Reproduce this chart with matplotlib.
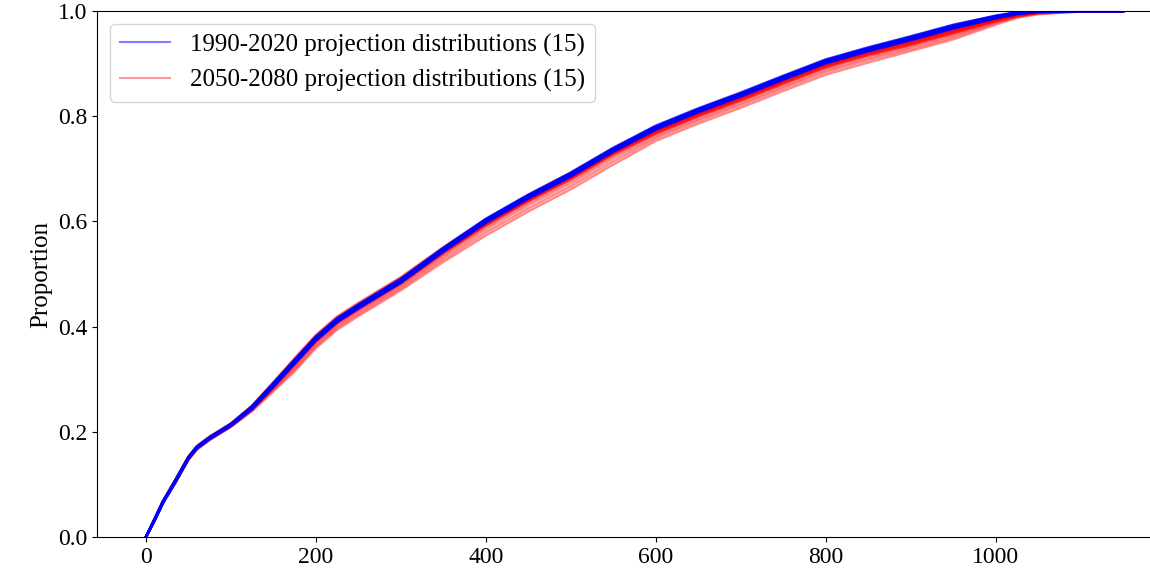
import matplotlib
matplotlib.use("Agg")
import matplotlib.pyplot as plt
from matplotlib.lines import Line2D

plt.rcParams['font.family'] = ['Liberation Serif', 'DejaVu Serif']

# shared x grid for every distribution curve
x_vals = [0, 10, 20, 35, 50, 60, 75, 100, 125, 150, 175, 200, 225, 250, 300,
          350, 400, 450, 500, 550, 600, 650, 700, 750, 800, 850, 900, 950,
          1000, 1025, 1050, 1100, 1150]

# cumulative proportions, 1990-2020 projections
hist_runs = [
    [0.000, 0.030, 0.064, 0.105, 0.148, 0.168, 0.186, 0.211, 0.243, 0.285, 0.329, 0.373, 0.408, 0.434, 0.483, 0.542, 0.597, 0.643, 0.685, 0.732, 0.774, 0.807, 0.837, 0.869, 0.900, 0.923, 0.944, 0.966, 0.986, 0.994, 0.998, 1.000, 1.000],
    [0.000, 0.030, 0.064, 0.105, 0.148, 0.168, 0.186, 0.211, 0.243, 0.286, 0.330, 0.374, 0.409, 0.435, 0.484, 0.543, 0.598, 0.644, 0.686, 0.733, 0.775, 0.808, 0.838, 0.870, 0.901, 0.924, 0.945, 0.967, 0.986, 0.994, 0.998, 1.000, 1.000],
    [0.000, 0.031, 0.065, 0.106, 0.149, 0.169, 0.187, 0.212, 0.244, 0.286, 0.330, 0.374, 0.409, 0.435, 0.484, 0.543, 0.598, 0.644, 0.686, 0.733, 0.775, 0.808, 0.838, 0.870, 0.901, 0.924, 0.945, 0.967, 0.987, 0.995, 0.998, 1.000, 1.000],
    [0.000, 0.031, 0.065, 0.106, 0.149, 0.169, 0.187, 0.212, 0.244, 0.287, 0.331, 0.375, 0.410, 0.436, 0.485, 0.544, 0.599, 0.645, 0.687, 0.734, 0.776, 0.809, 0.839, 0.871, 0.902, 0.925, 0.946, 0.968, 0.987, 0.995, 0.999, 1.000, 1.000],
    [0.000, 0.031, 0.065, 0.106, 0.149, 0.169, 0.187, 0.212, 0.245, 0.287, 0.331, 0.375, 0.410, 0.436, 0.485, 0.544, 0.599, 0.645, 0.687, 0.734, 0.776, 0.809, 0.839, 0.871, 0.902, 0.925, 0.946, 0.968, 0.988, 0.995, 0.999, 1.000, 1.000],
    [0.000, 0.031, 0.065, 0.106, 0.149, 0.169, 0.187, 0.212, 0.245, 0.288, 0.332, 0.376, 0.411, 0.437, 0.486, 0.545, 0.600, 0.646, 0.688, 0.735, 0.777, 0.810, 0.840, 0.872, 0.903, 0.926, 0.947, 0.969, 0.988, 0.995, 0.999, 1.000, 1.000],
    [0.000, 0.032, 0.066, 0.107, 0.150, 0.170, 0.188, 0.213, 0.245, 0.288, 0.332, 0.376, 0.411, 0.437, 0.486, 0.545, 0.600, 0.646, 0.688, 0.735, 0.777, 0.810, 0.840, 0.872, 0.903, 0.926, 0.947, 0.969, 0.988, 0.996, 0.999, 1.000, 1.000],
    [0.000, 0.032, 0.066, 0.107, 0.150, 0.170, 0.188, 0.213, 0.246, 0.289, 0.333, 0.377, 0.412, 0.438, 0.487, 0.546, 0.601, 0.647, 0.689, 0.736, 0.778, 0.811, 0.841, 0.873, 0.904, 0.927, 0.948, 0.970, 0.989, 0.996, 0.999, 1.000, 1.000],
    [0.000, 0.032, 0.066, 0.107, 0.150, 0.170, 0.188, 0.213, 0.246, 0.290, 0.334, 0.378, 0.413, 0.439, 0.488, 0.547, 0.602, 0.648, 0.690, 0.737, 0.779, 0.812, 0.842, 0.874, 0.905, 0.928, 0.949, 0.971, 0.989, 0.996, 0.999, 1.000, 1.000],
    [0.000, 0.033, 0.067, 0.108, 0.151, 0.171, 0.189, 0.214, 0.247, 0.290, 0.334, 0.378, 0.413, 0.439, 0.488, 0.547, 0.602, 0.648, 0.690, 0.737, 0.779, 0.812, 0.842, 0.874, 0.905, 0.928, 0.949, 0.971, 0.990, 0.996, 0.999, 1.000, 1.000],
    [0.000, 0.033, 0.067, 0.108, 0.151, 0.171, 0.189, 0.214, 0.247, 0.291, 0.335, 0.379, 0.414, 0.440, 0.489, 0.548, 0.603, 0.649, 0.691, 0.738, 0.780, 0.813, 0.843, 0.875, 0.906, 0.929, 0.950, 0.972, 0.990, 0.997, 0.999, 1.000, 1.000],
    [0.000, 0.033, 0.067, 0.108, 0.151, 0.171, 0.189, 0.214, 0.248, 0.291, 0.335, 0.379, 0.414, 0.440, 0.489, 0.548, 0.603, 0.649, 0.691, 0.738, 0.780, 0.813, 0.843, 0.875, 0.906, 0.929, 0.950, 0.972, 0.990, 0.997, 0.999, 1.000, 1.000],
    [0.000, 0.033, 0.067, 0.108, 0.151, 0.171, 0.189, 0.214, 0.248, 0.292, 0.336, 0.380, 0.415, 0.441, 0.490, 0.549, 0.604, 0.650, 0.692, 0.739, 0.781, 0.814, 0.844, 0.876, 0.907, 0.930, 0.951, 0.973, 0.990, 0.997, 0.999, 1.000, 1.000],
    [0.000, 0.034, 0.068, 0.109, 0.152, 0.172, 0.190, 0.215, 0.248, 0.292, 0.336, 0.380, 0.415, 0.441, 0.490, 0.549, 0.604, 0.650, 0.692, 0.739, 0.781, 0.814, 0.844, 0.876, 0.907, 0.930, 0.951, 0.973, 0.991, 0.997, 1.000, 1.000, 1.000],
    [0.000, 0.034, 0.068, 0.109, 0.152, 0.172, 0.190, 0.215, 0.249, 0.293, 0.337, 0.381, 0.416, 0.442, 0.491, 0.550, 0.605, 0.651, 0.693, 0.740, 0.782, 0.815, 0.845, 0.877, 0.908, 0.931, 0.952, 0.974, 0.991, 0.998, 1.000, 1.000, 1.000],
]

# cumulative proportions, 2050-2080 projections
future_runs = [
    [0.000, 0.033, 0.067, 0.110, 0.153, 0.173, 0.191, 0.216, 0.250, 0.294, 0.340, 0.384, 0.419, 0.445, 0.494, 0.551, 0.604, 0.650, 0.692, 0.739, 0.779, 0.812, 0.842, 0.874, 0.905, 0.928, 0.948, 0.970, 0.988, 0.996, 0.999, 1.000, 1.000],
    [0.000, 0.033, 0.067, 0.109, 0.152, 0.172, 0.190, 0.215, 0.249, 0.293, 0.338, 0.382, 0.417, 0.443, 0.492, 0.549, 0.602, 0.648, 0.690, 0.737, 0.777, 0.810, 0.840, 0.872, 0.903, 0.926, 0.946, 0.968, 0.987, 0.995, 0.999, 1.000, 1.000],
    [0.000, 0.032, 0.066, 0.109, 0.152, 0.172, 0.190, 0.215, 0.248, 0.292, 0.337, 0.381, 0.416, 0.442, 0.491, 0.548, 0.601, 0.647, 0.689, 0.736, 0.776, 0.809, 0.839, 0.871, 0.902, 0.925, 0.945, 0.967, 0.986, 0.994, 0.998, 1.000, 1.000],
    [0.000, 0.032, 0.066, 0.108, 0.151, 0.171, 0.189, 0.214, 0.247, 0.291, 0.335, 0.379, 0.414, 0.440, 0.489, 0.546, 0.599, 0.645, 0.687, 0.734, 0.774, 0.807, 0.837, 0.869, 0.900, 0.923, 0.943, 0.965, 0.985, 0.994, 0.998, 1.000, 1.000],
    [0.000, 0.032, 0.066, 0.108, 0.151, 0.171, 0.189, 0.214, 0.247, 0.290, 0.334, 0.378, 0.413, 0.439, 0.488, 0.545, 0.598, 0.644, 0.686, 0.733, 0.773, 0.806, 0.836, 0.868, 0.899, 0.922, 0.942, 0.964, 0.984, 0.993, 0.998, 1.000, 1.000],
    [0.000, 0.032, 0.066, 0.107, 0.150, 0.170, 0.188, 0.213, 0.246, 0.289, 0.333, 0.377, 0.412, 0.438, 0.487, 0.544, 0.597, 0.643, 0.685, 0.732, 0.772, 0.805, 0.835, 0.867, 0.898, 0.921, 0.941, 0.963, 0.984, 0.993, 0.998, 1.000, 1.000],
    [0.000, 0.032, 0.066, 0.107, 0.150, 0.170, 0.188, 0.213, 0.246, 0.288, 0.332, 0.376, 0.411, 0.437, 0.486, 0.543, 0.596, 0.642, 0.684, 0.731, 0.771, 0.804, 0.834, 0.866, 0.897, 0.920, 0.940, 0.962, 0.983, 0.993, 0.997, 1.000, 1.000],
    [0.000, 0.032, 0.066, 0.107, 0.150, 0.170, 0.188, 0.213, 0.245, 0.288, 0.331, 0.375, 0.410, 0.436, 0.485, 0.542, 0.595, 0.641, 0.683, 0.730, 0.770, 0.803, 0.833, 0.865, 0.896, 0.919, 0.939, 0.961, 0.983, 0.992, 0.997, 1.000, 1.000],
    [0.000, 0.032, 0.066, 0.106, 0.149, 0.169, 0.187, 0.212, 0.245, 0.287, 0.330, 0.374, 0.409, 0.435, 0.484, 0.541, 0.594, 0.640, 0.682, 0.729, 0.769, 0.802, 0.832, 0.864, 0.895, 0.918, 0.938, 0.960, 0.982, 0.992, 0.997, 1.000, 1.000],
    [0.000, 0.032, 0.066, 0.106, 0.149, 0.169, 0.187, 0.212, 0.244, 0.286, 0.329, 0.373, 0.408, 0.434, 0.483, 0.540, 0.593, 0.639, 0.681, 0.728, 0.768, 0.801, 0.831, 0.863, 0.894, 0.917, 0.937, 0.959, 0.982, 0.992, 0.997, 1.000, 1.000],
    [0.000, 0.031, 0.065, 0.106, 0.149, 0.169, 0.187, 0.212, 0.244, 0.285, 0.328, 0.372, 0.407, 0.433, 0.482, 0.539, 0.592, 0.638, 0.680, 0.727, 0.767, 0.800, 0.830, 0.862, 0.893, 0.916, 0.936, 0.958, 0.981, 0.991, 0.997, 1.000, 1.000],
    [0.000, 0.031, 0.065, 0.105, 0.148, 0.168, 0.186, 0.211, 0.243, 0.284, 0.326, 0.370, 0.405, 0.431, 0.480, 0.537, 0.590, 0.636, 0.678, 0.725, 0.766, 0.799, 0.829, 0.861, 0.892, 0.915, 0.935, 0.957, 0.980, 0.991, 0.996, 1.000, 1.000],
    [0.000, 0.031, 0.065, 0.105, 0.148, 0.168, 0.186, 0.211, 0.242, 0.282, 0.323, 0.367, 0.402, 0.428, 0.477, 0.533, 0.585, 0.631, 0.673, 0.720, 0.762, 0.795, 0.825, 0.857, 0.888, 0.911, 0.932, 0.954, 0.979, 0.990, 0.996, 1.000, 1.000],
    [0.000, 0.031, 0.065, 0.104, 0.147, 0.167, 0.185, 0.210, 0.241, 0.280, 0.319, 0.363, 0.398, 0.424, 0.473, 0.528, 0.579, 0.625, 0.667, 0.714, 0.758, 0.791, 0.821, 0.853, 0.884, 0.907, 0.928, 0.950, 0.977, 0.989, 0.995, 0.999, 1.000],
    [0.000, 0.030, 0.064, 0.103, 0.146, 0.166, 0.184, 0.209, 0.239, 0.277, 0.315, 0.359, 0.394, 0.420, 0.469, 0.523, 0.573, 0.619, 0.661, 0.708, 0.753, 0.786, 0.816, 0.848, 0.879, 0.902, 0.924, 0.946, 0.974, 0.987, 0.994, 0.999, 1.000],
]

hist_label = '1990-2020 projection distributions (%d)' % len(hist_runs)
future_label = '2050-2080 projection distributions (%d)' % len(future_runs)

fig = plt.figure(figsize=(11.5, 5.71), dpi=100)
# right edge of the axes runs past the figure border
ax = fig.add_axes([97 / 1150, 34 / 571, 1111 / 1150, 526 / 571])

for run in future_runs:
    ax.plot(x_vals, run, color='red', alpha=0.45, linewidth=1.8)
for run in hist_runs:
    ax.plot(x_vals, run, color='blue', alpha=0.5, linewidth=1.8)

ax.set_xlim(-57.5, 1250)
ax.set_ylim(0, 1)
ax.set_xticks([0, 200, 400, 600, 800, 1000])
ax.set_ylabel('Proportion', fontsize=18)
ax.tick_params(labelsize=17)

handles = [Line2D([], [], color='blue', alpha=0.5, linewidth=1.5),
           Line2D([], [], color='red', alpha=0.4, linewidth=1.5)]
ax.legend(handles, [hist_label, future_label], loc='upper left', fontsize=18)

fig.savefig('out.png', dpi=100)
